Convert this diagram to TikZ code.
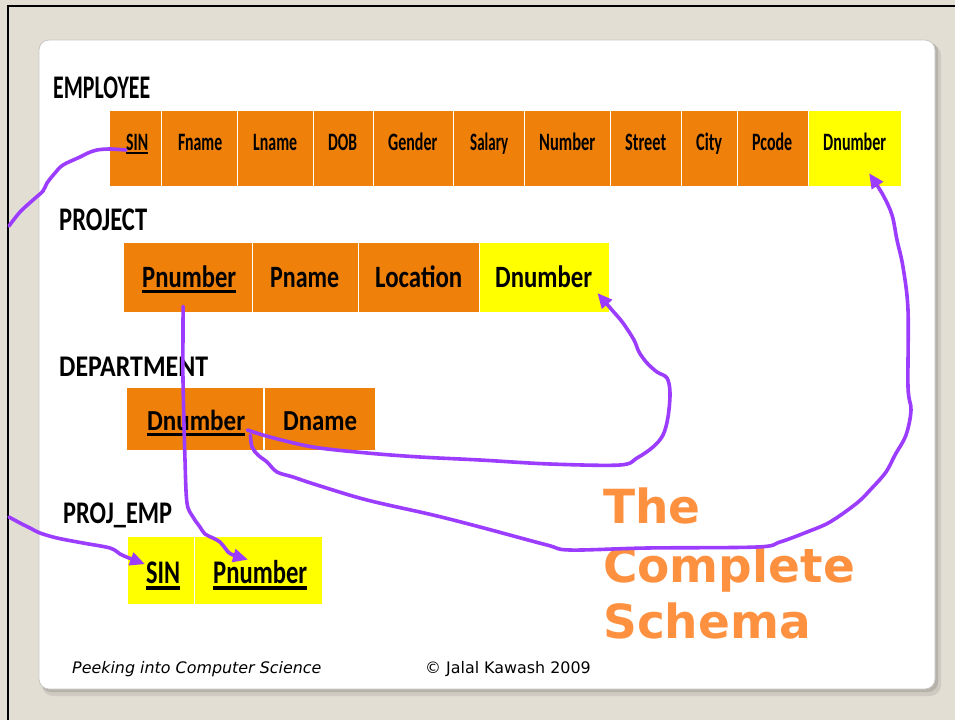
\documentclass[tikz,border=0pt]{standalone}
\usepackage{fontspec}
\usepackage{graphicx}
\usetikzlibrary{arrows.meta}
\newfontfamily\calfont{Carlito}
\newfontfamily\verdfont{DejaVu Sans}
\definecolor{pagebeige}{RGB}{227,222,212}
\definecolor{cellorange}{RGB}{239,128,10}
\definecolor{keyyellow}{RGB}{255,255,0}
\definecolor{penpurple}{RGB}{155,60,255}
\definecolor{titleorange}{RGB}{254,145,64}
\definecolor{slideshadow}{RGB}{172,167,160}
% key attribute: text with a thick rule below it (gap, thickness, text)
\newcommand\keyul[3]{\leavevmode\vtop{\hbox{#3}\kern#1\hrule height#2}}
% squeeze a text horizontally to a given width, keeping its height
\newcommand\fitto[2]{\resizebox{#1}{\height}{#2}}
\newcommand\empfont{\calfont\bfseries\fontsize{25}{25}\selectfont}
\newcommand\projfont{\calfont\bfseries\fontsize{31}{31}\selectfont}
\newcommand\deptfont{\calfont\bfseries\fontsize{29}{29}\selectfont}
\newcommand\pefont{\calfont\bfseries\fontsize{33}{33}\selectfont}
\begin{document}
\begin{tikzpicture}[x=1pt,y=-1pt,
  cell/.style={draw=white, line width=1.2pt, fill=cellorange, inner sep=0pt, anchor=north west},
  keycell/.style={cell, fill=keyyellow},
  txt/.style={inner sep=0pt, anchor=base west, text=black},
  conn/.style={draw=penpurple, line width=3.6pt, line cap=round, line join=round},
  tipped/.style={conn, -{Triangle[length=15pt,width=13pt]}}]
\useasboundingbox (0,0) rectangle (955,720);
\fill[pagebeige] (0,0) rectangle (955,720);
% frame of the window
\draw[line width=2.6pt] (8,720) -- (8,6) -- (955,6);
% slide with its drop shadow
\fill[slideshadow, opacity=0.35, rounded corners=11pt] (42,44) rectangle (941,696);
\fill[slideshadow, opacity=0.7, rounded corners=10pt] (41,42) rectangle (938,692);
\fill[white, draw=black!22, line width=0.8pt, rounded corners=10pt] (39,40) rectangle (935,689);

% ---------------- EMPLOYEE ----------------
\node[txt] (lblEmp) at (53,98) {\fitto{97pt}{\calfont\bfseries\fontsize{33}{33}\selectfont EMPLOYEE}};
\node[cell, minimum width=52, minimum height=76] (eSIN) at (109,110) {};
\node[cell, minimum width=76, minimum height=76] (eFN) at (161,110) {};
\node[cell, minimum width=76, minimum height=76] (eLN) at (237,110) {};
\node[cell, minimum width=60, minimum height=76] (eDOB) at (313,110) {};
\node[cell, minimum width=80, minimum height=76] (eGen) at (373,110) {};
\node[cell, minimum width=71, minimum height=76] (eSal) at (453,110) {};
\node[cell, minimum width=86, minimum height=76] (eNum) at (524,110) {};
\node[cell, minimum width=71, minimum height=76] (eStr) at (610,110) {};
\node[cell, minimum width=56, minimum height=76] (eCity) at (681,110) {};
\node[cell, minimum width=71, minimum height=76] (ePC) at (737,110) {};
\node[keycell, minimum width=93, minimum height=76] (eDN) at (808,110) {};
\node[txt] (eSINt) at (126,150) {\fitto{22pt}{\keyul{1.6pt}{2pt}{\empfont SIN}}};
\node[txt] (eFNt) at (178,150) {\fitto{44pt}{\empfont Fname}};
\node[txt] (eLNt) at (253,150) {\fitto{44pt}{\empfont Lname}};
\node[txt] (eDOBt) at (328,150) {\fitto{29pt}{\empfont DOB}};
\node[txt] (eGent) at (388,150) {\fitto{49pt}{\empfont Gender}};
\node[txt] (eSalt) at (470,150) {\fitto{38pt}{\empfont Salary}};
\node[txt] (eNumt) at (539,150) {\fitto{56pt}{\empfont Number}};
\node[txt] (eStrt) at (625,150) {\fitto{41pt}{\empfont Street}};
\node[txt] (eCityt) at (696,150) {\fitto{26pt}{\empfont City}};
\node[txt] (ePCt) at (752,150) {\fitto{40pt}{\empfont Pcode}};
\node[txt] (eDNt) at (823,150) {\fitto{63pt}{\empfont Dnumber}};

% ---------------- PROJECT ----------------
\node[txt] (lblProj) at (59,230) {\fitto{88pt}{\calfont\bfseries\fontsize{33}{33}\selectfont PROJECT}};
\node[cell, minimum width=129, minimum height=70] (pPN) at (123,242) {};
\node[cell, minimum width=106, minimum height=70] (pName) at (252,242) {};
\node[cell, minimum width=121, minimum height=70] (pLoc) at (358,242) {};
\node[keycell, minimum width=130, minimum height=70] (pDN) at (479,242) {};
\node[txt] (pPNt) at (142,287) {\fitto{94pt}{\keyul{3pt}{3pt}{\projfont Pnumber}}};
\node[txt] (pNamet) at (270,287) {\fitto{69pt}{\projfont Pname}};
\node[txt] (pLoct) at (375,287) {\fitto{87pt}{\projfont Location}};
\node[txt] (pDNt) at (495,287) {\fitto{97pt}{\projfont Dnumber}};

% ---------------- DEPARTMENT ----------------
\node[txt] (lblDept) at (59,376) {\fitto{149pt}{\calfont\bfseries\fontsize{30}{30}\selectfont DEPARTMENT}};
\node[cell, minimum width=137, minimum height=63] (dDN) at (126,387) {};
\node[cell, minimum width=111, minimum height=63] (dName) at (264,387) {};
\node[txt] (dDNt) at (147,430) {\fitto{98pt}{\keyul{3pt}{3pt}{\deptfont Dnumber}}};
\node[txt] (dNamet) at (283,430) {\fitto{74pt}{\deptfont Dname}};

% ---------------- PROJ_EMP ----------------
\node[txt] (lblPE) at (63,523) {\fitto{109pt}{\calfont\bfseries\fontsize{31.5}{31.5}\selectfont PROJ\_EMP}};
\node[keycell, minimum width=67, minimum height=68] (peSIN) at (127,536) {};
\node[keycell, minimum width=128, minimum height=68] (pePN) at (194,536) {};
\node[txt] (peSINt) at (146,583) {\fitto{34pt}{\keyul{3pt}{3.5pt}{\pefont SIN}}};
\node[txt] (pePNt) at (213,583) {\fitto{94pt}{\keyul{3pt}{3.5pt}{\pefont Pnumber}}};

% ---------------- title and footer ----------------
\foreach \nm/\word/\yy in {tA/The/523, tB/Complete/582, tC/Schema/638}{
  \node[txt, text=titleorange] (\nm) at (603,\yy) {\verdfont\bfseries\fontsize{47}{47}\selectfont \word};
}
\node[txt] (foot1) at (72,673) {\verdfont\itshape\fontsize{15.9}{16}\selectfont Peeking into Computer Science};
\node[txt] (foot2) at (425,673) {\verdfont\fontsize{15.9}{16}\selectfont \textcopyright{} Jalal Kawash 2009};

% ---------------- hand-drawn references ----------------
\coordinate (edgeA) at (9,226);
\coordinate (edgeB) at (9,517);
\coordinate (tipSIN) at ([xshift=-1pt,yshift=-3pt]peSINt.north west);
\coordinate (srcPN) at ([shift={(-5pt,7pt)}]pPN.south);
\coordinate (tipPN) at ([xshift=35pt]pePNt.north west);
\coordinate (srcDNa) at ([xshift=2pt]dDNt.base east);
\coordinate (srcDNb) at ([xshift=5pt,yshift=-5pt]dDNt.base east);
\coordinate (tipPDN) at ([shift={(5pt,-6pt)}]pDNt.base east);
\coordinate (tipEDN) at ([shift={(14pt,14pt)}]eDN.south);

% SIN of EMPLOYEE leaves to the left ...
\draw[conn] plot[smooth, tension=0.55] coordinates {(eSINt.base west) (110,149) (97,150) (88,153) (80,157) (63,165) (55,173) (47,183) (43,191) (33,200) (20,212) (edgeA)};
% ... and comes back into SIN of PROJ_EMP
\draw[tipped] plot[smooth, tension=0.55] coordinates {(edgeB) (20,523) (30,528) (40,533) (57,538) (83,543) (110,548) (120,554) (129,558) (tipSIN)};
% Pnumber of PROJECT to Pnumber of PROJ_EMP
\draw[tipped] plot[smooth, tension=0.55] coordinates {(srcPN) (183,333) (183,380) (185,460) (187,503) (193,517) (200,527) (205,534) (213,538) (220,542) (225,548) (231,554) (tipPN)};
% Dnumber of DEPARTMENT to Dnumber of PROJECT
\draw[tipped] plot[smooth, tension=0.55] coordinates {(srcDNa) (270,437) (313,447) (367,453) (420,457) (480,460) (550,464) (620,465) (637,458) (653,447) (663,435) (668,417) (670,393) (667,378) (657,372) (647,363) (639,352) (634,340) (623,323) (612,310) (tipPDN)};
% Dnumber of DEPARTMENT to Dnumber of EMPLOYEE
\draw[tipped] plot[smooth, tension=0.55] coordinates {(srcDNb) (252,447) (258,455) (267,462) (277,472) (293,477) (317,485) (367,500) (433,515) (480,527) (547,545) (570,550) (647,548) (757,547) (780,542) (807,532) (830,522) (857,503) (872,488) (886,472) (895,455) (906,435) (911,410) (908,387) (908,310) (903,267) (897,240) (892,215) (883,195) (tipEDN)};
\end{tikzpicture}
\end{document}
